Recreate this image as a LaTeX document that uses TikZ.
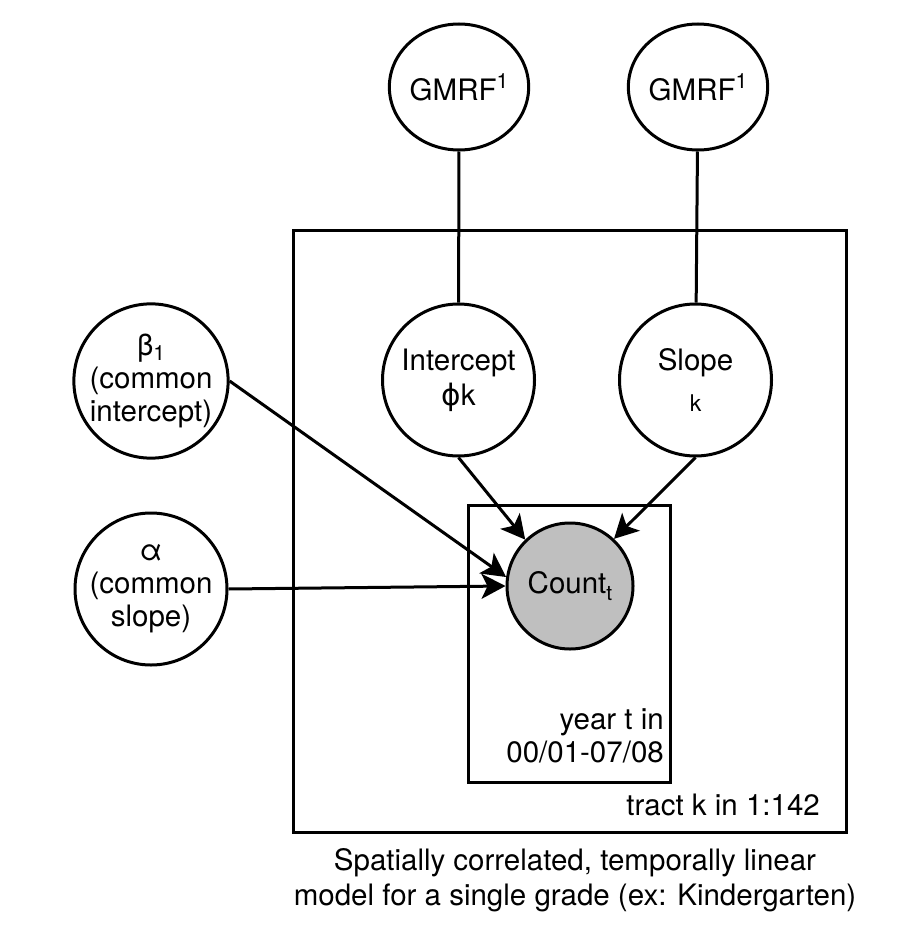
\documentclass[tikz,border=0pt]{standalone}
\usepackage{fontspec}
\setmainfont{TeX Gyre Heros}
\newfontfamily\dejavu{DejaVu Sans}
\usetikzlibrary{arrows.meta,shapes.geometric}
\newcommand{\mysup}[1]{\raisebox{12pt}{\fontsize{21}{21}\selectfont #1}}
\newcommand{\mysub}[2]{\raisebox{-#1}{\fontsize{21}{21}\selectfont #2}}
\begin{document}
\begin{tikzpicture}[x=1pt,y=-1pt,
  every node/.style={font=\fontsize{29.5}{33}\selectfont},
  rv/.style={draw, circle, line width=3pt, inner sep=0pt, align=center},
  bigrv/.style={rv, minimum size=152pt},
  smallrv/.style={draw, ellipse, line width=3pt, inner sep=0pt, align=center,
    minimum width=133pt, minimum height=126pt},
  obsrv/.style={rv, minimum size=126pt, fill=black!25},
  plate/.style={draw, line width=3pt},
  edge/.style={line width=3pt},
  arr/.style={edge, -{Stealth[length=24pt,width=25pt,inset=6pt]}},
  platelabel/.style={anchor=east, align=right, inner sep=0pt}
]
\useasboundingbox (0,0) rectangle (921,942);

% plates
\draw[plate] (293,230) rectangle (846,832);
\draw[plate] (468,505) rectangle (670,782);

% nodes
\node[smallrv] (g1) at (459,87) {GMRF\mysup{1}};
\node[smallrv] (g2) at (698,87) {GMRF\mysup{1}};
\node[bigrv] (icpt) at (458.5,380) {Intercept\\[2pt]{\dejavu ϕ}k};
\node[bigrv] (slope) at (695.5,380) {Slope\\[8pt]{\fontsize{23}{24}\selectfont k}};
\node[bigrv] (beta) at (151,381) {β\mysub{5pt}{1}\\(common\\intercept)};
\node[bigrv] (alpha) at (151,589) {α\\(common\\slope)};
\node[obsrv] (count) at (570,586) {Count\mysub{7pt}{t}};

% plate labels
\node[platelabel] (yearlbl) at (664,736) {year t in\\00/01-07/08};
\node[platelabel] (tractlbl) at (820,805) {tract k in 1:142};

% caption
\node[align=center, inner sep=0pt, font=\fontsize{29.5}{35}\selectfont] (caption) at (575,880)
  {Spatially correlated, temporally linear\\model for a single grade (ex: Kindergarten)};

% edges
\draw[edge] (g1) -- (icpt);
\draw[edge] (g2) -- (slope);
\draw[arr] (icpt.south) -- (count.134);
\draw[arr] (slope.south) -- (count.47);
\draw[arr] (beta.east) -- (count.172);
\draw[arr] (alpha.east) -- (count.west);
\end{tikzpicture}
\end{document}
